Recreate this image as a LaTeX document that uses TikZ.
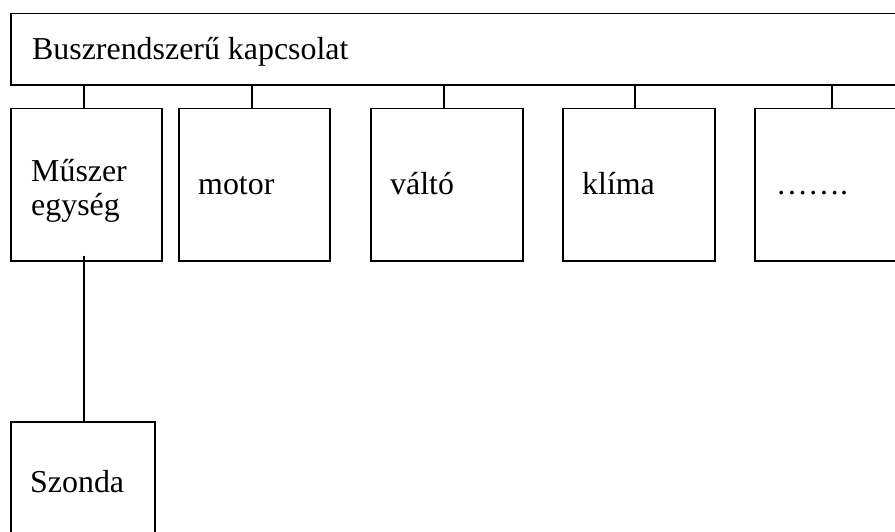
\documentclass[tikz,border=0pt]{standalone}
\usepackage{fontspec}
\setmainfont{Liberation Serif}
\begin{document}
\begin{tikzpicture}[x=1pt, y=-1pt,
  frame/.style={draw=black, line width=1.5pt, fill=white, rectangle,
    anchor=north west, inner sep=0pt},
  unitbox/.style={frame, minimum width=151pt, minimum height=152pt},
  lbl/.style={anchor=base west, inner sep=0pt, align=left,
    font=\fontsize{31.9}{33.5}\selectfont},
  wire/.style={draw=black, line width=1.5pt}
]
\useasboundingbox (0,0) rectangle (895,532);
\clip (0,0) rectangle (895,532);
\fill[white] (0,0) rectangle (895,532);

% bus bar (runs off the right edge)
\node[frame, minimum width=900pt, minimum height=71.5pt] (bus) at (10,12.7) {};
\node[lbl] (bus-t) at (32,60) {Buszrendszerű kapcsolat};

% units hanging on the bus
\node[unitbox, minimum width=151pt] (m1) at (10,108) {};
\node[unitbox, minimum width=151pt] (m2) at (178,108) {};
\node[unitbox, minimum width=152pt] (m3) at (370,108) {};
\node[unitbox, minimum width=152pt] (m4) at (562,108) {};
\node[unitbox, minimum width=160pt] (m5) at (754,108) {};

% a two-line label sits on the baseline of its last line
\node[lbl] (m1-t) at (31,215.2) {Műszer\\egység};
\node[lbl] (m2-t) at (198,195) {motor};
\node[lbl] (m3-t) at (390,195) {váltó};
\node[lbl] (m4-t) at (582,195) {klíma};
\node[lbl] (m5-t) at (776,195) {…….};

% probe below the instrument unit
\node[frame, minimum width=144pt, minimum height=130pt] (probe) at (10,421) {};
\node[lbl] (probe-t) at (30,492) {Szonda};

% stubs from the bus to each unit
\foreach \u/\dx in {m1/-2.5, m2/-2.5, m3/-3, m4/-4, m5/-3}
  \draw[wire] ([xshift=\dx pt]\u.north) -- ([xshift=\dx pt]\u.north |- bus.south);

% link from the instrument unit down to the probe
\draw[wire] ([xshift=-2.5pt, yshift=6pt]m1.south) -- ([xshift=-2.5pt]m1.south |- probe.north);
\end{tikzpicture}
\end{document}
